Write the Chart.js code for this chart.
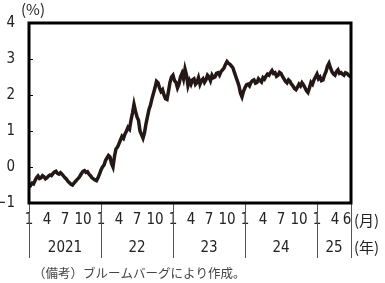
<!DOCTYPE html>
<html>
<head>
<meta charset="utf-8">
<script src="https://cdn.jsdelivr.net/npm/chart.js@4"></script>
<style>
  html, body { margin: 0; padding: 0; background: #fff; }
</style>
</head>
<body>
<canvas id="myChart" width="385" height="283"></canvas>
<script>
// quarter-month readings (%), Jan 2021 -> late Jun 2025
const y2021 = [-0.55, -0.52, -0.45, -0.47, -0.38, -0.3, -0.25, -0.32, -0.3, -0.24, -0.27, -0.33,
               -0.3, -0.25, -0.22, -0.24, -0.18, -0.14, -0.12, -0.18, -0.2, -0.16, -0.2, -0.25,
               -0.3, -0.34, -0.4, -0.44, -0.48, -0.5, -0.45, -0.4, -0.35, -0.31, -0.25, -0.18,
               -0.12, -0.1, -0.15, -0.13, -0.2, -0.24, -0.3, -0.33, -0.36, -0.38, -0.3, -0.2];
const y2022 = [-0.08, 0.0, 0.05, 0.18, 0.25, 0.32, 0.28, 0.1, 0.0, 0.3, 0.5, 0.55,
               0.65, 0.75, 0.85, 0.8, 0.92, 1.0, 1.1, 1.05, 1.3, 1.5, 1.74, 1.55,
               1.39, 1.3, 1.0, 0.9, 0.8, 0.95, 1.2, 1.4, 1.6, 1.72, 1.9, 2.05,
               2.2, 2.38, 2.34, 2.2, 2.1, 2.15, 2.0, 1.9, 1.88, 2.1, 2.35, 2.5];
const y2023 = [2.55, 2.4, 2.35, 2.2, 2.3, 2.5, 2.6, 2.45, 2.72, 2.55, 2.26, 2.4,
               2.3, 2.42, 2.45, 2.3, 2.35, 2.48, 2.3, 2.4, 2.45, 2.35, 2.42, 2.55,
               2.5, 2.4, 2.55, 2.48, 2.5, 2.6, 2.62, 2.55, 2.65, 2.7, 2.75, 2.85,
               2.93, 2.88, 2.85, 2.8, 2.75, 2.62, 2.5, 2.38, 2.25, 2.05, 1.95, 2.1];
const y2024 = [2.2, 2.28, 2.3, 2.25, 2.35, 2.4, 2.42, 2.33, 2.35, 2.45, 2.4, 2.36,
               2.48, 2.44, 2.52, 2.58, 2.55, 2.62, 2.68, 2.6, 2.62, 2.52, 2.55, 2.63,
               2.6, 2.52, 2.45, 2.38, 2.34, 2.42, 2.38, 2.3, 2.25, 2.18, 2.15, 2.22,
               2.3, 2.25, 2.34, 2.28, 2.2, 2.12, 2.07, 2.2, 2.35, 2.3, 2.42, 2.5];
const y2025 = [2.58, 2.45, 2.5, 2.4, 2.42, 2.55, 2.65, 2.8, 2.88, 2.75, 2.65, 2.58,
               2.55, 2.65, 2.7, 2.6, 2.62, 2.58, 2.55, 2.62, 2.6, 2.55, 2.52, 2.5];

const years = ['2021', '22', '23', '24', '25'];
const tickMonths = [[1, 4, 7, 10], [1, 4, 7, 10], [1, 4, 7, 10], [1, 4, 7, 10], [1, 4, 6]];
const yTicks = [-1, 0, 1, 2, 3, 4];
const xEnd = 53.67; // months since Jan 2021 at right edge
const step = 0.25;  // months between readings

const values = [].concat(y2021, y2022, y2023, y2024, y2025);
const pts = values.map((v, i) => ({ x: i * step, y: v }));

const numFont = "'Liberation Sans Narrow', 'DejaVu Sans Condensed', 'Roboto Condensed', sans-serif";
const jpFont = "'Noto Sans CJK JP', sans-serif";
const ink = '#231815';

const decor = {
    id: 'decor',
    afterDraw(chart) {
        const c = chart.ctx;
        const a = chart.chartArea;
        const xs = chart.scales.x;
        const ys = chart.scales.y;
        c.save();
        // inner ticks on y axis
        c.strokeStyle = '#000';
        c.lineWidth = 1;
        yTicks.forEach(t => {
            const y = Math.round(ys.getPixelForValue(t)) + 0.5;
            c.beginPath(); c.moveTo(a.left, y); c.lineTo(a.left + 4, y); c.stroke();
        });
        // year dividers below the axis
        c.strokeStyle = '#555';
        const divs = years.map((y, i) => i * 12).concat([xEnd]);
        divs.forEach(m => {
            const x = Math.round(xs.getPixelForValue(m)) + 0.5;
            c.beginPath(); c.moveTo(x, a.bottom); c.lineTo(x, 258); c.stroke();
        });
        // frame
        c.strokeStyle = '#000';
        c.lineWidth = 3;
        c.strokeRect(a.left, a.top, a.right - a.left, a.bottom - a.top);
        // year labels
        c.fillStyle = '#222';
        c.font = '15px ' + numFont;
        c.textAlign = 'center';
        c.textBaseline = 'middle';
        years.forEach((y, i) => {
            const x0 = xs.getPixelForValue(i * 12);
            const x1 = xs.getPixelForValue(Math.min((i + 1) * 12, xEnd));
            c.fillText(y, (x0 + x1) / 2, 248);
        });
        // unit labels
        c.font = '15px ' + jpFont;
        c.textAlign = 'left';
        c.fillText('(月)', 354, 220);
        c.fillText('(年)', 354, 247);
        c.fillText('(%)', 21, 9);
        // source note
        c.fillStyle = '#444';
        c.font = '12.5px ' + jpFont;
        c.fillText('（備考）ブルームバーグにより作成。', 33, 273);
        c.restore();
    }
};

const ctx = document.getElementById('myChart');
new Chart(ctx, {
    type: 'line',
    data: {
        datasets: [{
            data: pts,
            borderColor: ink,
            borderWidth: 3.5,
            pointRadius: 0,
            tension: 0,
            fill: false
        }]
    },
    options: {
        responsive: false,
        animation: false,
        layout: { padding: { top: 19, right: 34, left: 0, bottom: 0 } },
        plugins: { legend: { display: false }, tooltip: { enabled: false } },
        scales: {
            x: {
                type: 'linear',
                min: 0,
                max: xEnd,
                afterFit: s => { s.height = 80; },
                afterBuildTicks: s => {
                    const t = [];
                    tickMonths.forEach((ms, i) => ms.forEach(m => t.push({ value: i * 12 + m - 1 })));
                    s.ticks = t;
                },
                grid: { display: false, drawTicks: false },
                border: { display: false },
                ticks: {
                    autoSkip: false,
                    maxRotation: 0,
                    padding: 8,
                    color: '#222',
                    font: { family: numFont, size: 15 },
                    callback: v => String(Math.round(v) % 12 + 1)
                }
            },
            y: {
                min: -1,
                max: 4,
                afterFit: s => { s.width = 29; },
                afterBuildTicks: s => { s.ticks = yTicks.map(v => ({ value: v })); },
                grid: { display: false, drawTicks: false },
                border: { display: false },
                ticks: {
                    padding: 14,
                    color: '#222',
                    font: { family: numFont, size: 15 },
                    callback: v => v < 0 ? '\u2212' + Math.abs(v) : String(v)
                }
            }
        }
    },
    plugins: [decor]
});
</script>
</body>
</html>
